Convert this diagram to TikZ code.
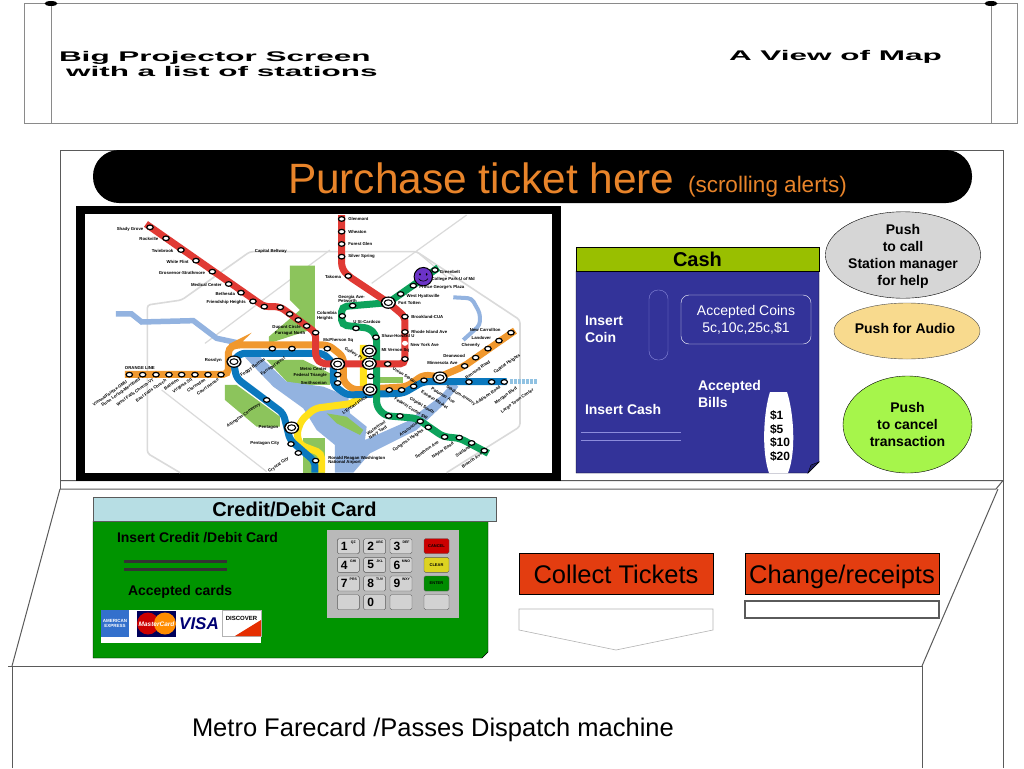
\documentclass[tikz,border=0pt]{standalone}
\usepackage{fontspec}
\setmainfont{Liberation Sans}
\usetikzlibrary{shapes, positioning}
\definecolor{framegray}{HTML}{8A8A8A}
\definecolor{kioskgray}{HTML}{5A5A5A}
\definecolor{titleorange}{HTML}{E8842A}
\definecolor{cashblue}{HTML}{333399}
\definecolor{cashgreen}{HTML}{99BF00}
\definecolor{slotblue}{HTML}{8C8CDC}
\definecolor{cardblue}{HTML}{B7DEE4}
\definecolor{cardgreen}{HTML}{009400}
\definecolor{btnred}{HTML}{E33D10}
\definecolor{callgray}{HTML}{D6D6D6}
\definecolor{audiotan}{HTML}{F8DA8E}
\definecolor{cancelgreen}{HTML}{A6F54B}
\definecolor{mapred}{HTML}{E03A34}
\definecolor{maporange}{HTML}{F0982E}
\definecolor{mapblue}{HTML}{0A78BE}
\definecolor{mapgreen}{HTML}{0DA35C}
\definecolor{mapyellow}{HTML}{FFE11A}
\definecolor{mapwater}{HTML}{93B3E0}
\definecolor{mappark}{HTML}{8CC45C}
\definecolor{mapbelt}{HTML}{DADADA}
\newcommand{\fsz}[1]{\fontsize{#1}{#1}\selectfont}
\tikzset{
  plainbox/.style={inner sep=0pt, outer sep=0pt, align=center},
  boldtext/.style={plainbox, text=white, align=left, font=\fsz{14}\bfseries, execute at begin node=\setlength{\baselineskip}{17pt}},
  cardtext/.style={plainbox, anchor=west, font=\fsz{14}\bfseries},
  pushbtn/.style={plainbox, draw=black, ellipse, font=\fsz{14}\bfseries, execute at begin node=\setlength{\baselineskip}{17pt}},
  redbtn/.style={plainbox, draw=black, fill=btnred, minimum width=194pt, minimum height=41pt, text height=21pt, text depth=2pt, font=\fsz{25.5}},
  stretchtext/.style={plainbox, anchor=west, transform shape, xscale=2.25, font=\fsz{14}\bfseries},
  keycap/.style={plainbox, draw=gray!70!black, fill=gray!35, rounded corners=1.5pt, minimum width=22pt, minimum height=15pt},
  sidekey/.style={keycap, minimum width=25pt, font=\fsz{4}\bfseries},
  metroline/.style={line width=7pt, rounded corners=5pt},
  maplabel/.style={plainbox, align=left, font=\fsz{4.3}\bfseries},
  stopmark/.style={draw=black, fill=white, line width=1.2pt}
}
\begin{document}
\begin{tikzpicture}[x=1pt, y=-1pt]
\useasboundingbox (0,0) rectangle (1024,768);
% Projector screen
\draw[framegray, line width=1pt] (24,3.5) rectangle (1017,123);
\draw[framegray, line width=1pt] (51,3.5) -- (51,123) (991,3.5) -- (991,123);
\fill (51,3.5) ellipse (6.5pt and 2.5pt);
\fill (991,3.5) ellipse (6.5pt and 2.5pt);
\node[stretchtext] (screen1) at (59,57.5) {Big Projector Screen};
\node[stretchtext] (screen2) at (66,71.5) {with a list of stations};
\node[stretchtext] (screen3) at (729,56.5) {A View of Map};
% Kiosk outline
\draw[kioskgray, line width=1pt] (60,489) -- (60,150) -- (1003,150) -- (1003,768);
\draw[kioskgray, line width=1pt] (60,480.5) -- (1003,480.5) -- (996,489) -- (60,489);
\draw[kioskgray, line width=1pt] (60,489) -- (12,666) (998,489) -- (922,666);
\draw[kioskgray, line width=1pt] (12,768) -- (12,666) (8,666) -- (922,666) -- (922,768);
% Title bar
\node[plainbox,
      fill=black,
      rounded corners=26pt,
      minimum width=879pt,
      minimum height=53pt] (titlebar) at (532.5,176.5) {};
\node[plainbox, anchor=base west, text=titleorange, font=\fsz{42.4}] (title) at (288,193) {Purchase ticket here};
\node[plainbox, anchor=base west, text=titleorange, font=\fsz{22.5}] (alerts) at (688,192) {(scrolling alerts)};
% Map
\fill[black] (76,206) rectangle (561,481);
\fill[white] (85,214) rectangle (552,473);
\begin{scope}[shift={(70,200)}, x=0.3333pt, y=-0.3333pt]
  % Roads
  \draw[mapbelt, line width=1.6pt, rounded corners=3pt]
    (1130,818) -- (1350,680) -- (1350,360) -- (1040,155) -- (540,155) -- (335,300) -- (232,315) -- (232,760) -- (330,818);
  \draw[mapbelt, line width=1.2pt]
    (1190,45) -- (905,250) (405,430) -- (780,150) (275,570) -- (590,815) (1040,155) -- (1130,230);
  % Parks and water
  \fill[mappark] (660,197) -- (735,197) -- (735,385) -- (597,430) -- (597,410) -- (690,330) -- (660,300) -- cycle;
  \fill[mappark] (465,555) -- (500,555) -- (630,650) -- (630,680) -- (560,680) -- (465,600) -- cycle;
  \fill[mappark] (700,715) -- (765,715) -- (765,818) -- (700,818) -- cycle;
  \fill[mappark] (590,480) -- (700,480) -- (780,520) -- (780,555) -- (660,555) -- cycle;
  \fill[mappark] (930,530) -- (1000,530) -- (1000,550) -- (930,550) -- cycle;
  \draw[mapwater, line width=5.5pt]
    (138,342) -- (185,342) -- (215,366) -- (370,362) -- (440,415) -- (510,430);
  \draw[mapwater, line width=4pt, rounded corners=4pt]
    (1150,292) -- (1205,295) -- (1230,340) -- (1230,375) -- (1180,420);
  \fill[mapwater] (525,472) -- (570,470) -- (650,545) -- (760,560) -- (835,590) -- (840,640) -- (890,680) -- (885,720)
    -- (1010,665) -- (1110,590) -- (1150,545) -- (1165,560) -- (1125,610) -- (1040,690) -- (900,760) -- (850,818)
    -- (795,818) -- (795,735) -- (740,690) -- (700,625) -- (610,560) -- cycle;
  \fill[mappark] (770,640) -- (830,650) -- (880,690) -- (870,705) -- (800,670) -- cycle;
  % Metro lines
  \draw[metroline, mapyellow]
    (880,435) -- (880,575) -- (850,610) -- (735,625) -- (695,660) -- (680,700) -- (690,735) -- (755,760) -- (755,818);
  \draw[metroline, maporange]
    (165,523) -- (475,523) -- (475,445) -- (495,435) -- (775,435) -- (820,470) -- (820,545) -- (850,570) -- (1010,560)
    -- (1060,525) -- (1110,530) -- (1180,500) -- (1335,392);
  \draw[metroline, mapblue]
    (1310,545) -- (1060,545) -- (1000,580) -- (830,585) -- (790,555) -- (790,490) -- (760,460) -- (510,460) -- (490,485)
    -- (500,535) -- (640,640) -- (660,720) -- (735,785) -- (735,818);
  \draw[mapblue!45, line width=5pt, dashed, dash pattern=on 3pt off 1pt] (1320,545) -- (1402,545);
  \draw[metroline, mapgreen]
    (1105,203) -- (955,308) -- (815,320) -- (815,375) -- (900,385) -- (920,410) -- (920,620) -- (945,647)
    -- (1040,655) -- (1120,710) -- (1170,715) -- (1255,760);
  \draw[metroline, mapred]
    (228,72) -- (583,320) -- (630,320) -- (737,398) -- (737,475) -- (757,492) -- (1005,492) -- (1005,350) -- (955,308)
    -- (835,228) -- (815,205) -- (815,45);
  % Stations
  \foreach \p in {(240,82),(288,115),(333,150),(378,182),(427,215),(476,252),(513,278),(549,304),(583,320),(631,322),
                  (659,342),(685,360),(710,378),(737,398),(815,57),(815,95),(815,132),(815,170),(835,228),(1005,350),
                  (1005,396),(1005,477),(953,492),(1095,210),(1030,257),(992,282),(848,317),(817,348),(858,385),(918,412),
                  (902,529),(956,648),(990,648),(1051,664),(1075,682),(1124,711),(1168,713),(1205,729),(1243,752),
                  (178,524),(218,524),(258,524),(297,524),(335,524),(375,524),(414,524),(453,524),(607,446),(666,446),(772,446),
                  (958,570),(995,570),(1031,559),(1062,541),(1184,498),(1217,473),(1254,446),(1287,422),(1323,398),
                  (590,600),(663,732),(685,759),(737,782),(803,524),(803,549),(1197,546),(1265,546),(1303,546)}
    \draw[stopmark] \p ellipse (3.2pt and 2.3pt);
  \fill[white] (1005,430) ellipse (3pt and 2.5pt);
  \foreach \p in {(492,485),(803,492),(898,453),(898,491),(900,569),(1110,533),(955,308),(665,683)} {
    \fill[black] \p ellipse (7.6pt and 6.2pt);
    \fill[white] \p ellipse (6.2pt and 4.9pt);
    \fill[black] \p ellipse (4.6pt and 3.4pt);
    \fill[white] \p ellipse (3.2pt and 2.2pt);
  }
  % Smiley
  \draw[black, fill=violet!55!blue!80!white, line width=1pt] (1060,230) circle (9.2pt);
  \fill[black] (1050,223) ellipse (0.9pt and 1.4pt) (1070,223) ellipse (0.9pt and 1.4pt);
  \draw[black, line width=0.6pt] (1046,236) .. controls (1052,246) and (1068,246) .. (1074,236);
  % Station names
  \foreach \p/\t [count=\n] in {(220,88)/Shady Grove, (265,118)/Rockville, (310,152)/Twinbrook, (356,187)/White Flint,
      (405,218)/Grosvenor-Strathmore, (455,254)/Medical Center, (495,282)/Bethesda, (527,308)/Friendship Heights,
      (692,382)/Dupont Circle, (706,400)/Farragut North, (455,480)/Rosslyn, (625,683)/Pentagon, (628,730)/Pentagon City,
      (770,508)/Metro Center, (770,527)/Federal Triangle, (770,550)/Smithsonian, (813,230)/Takoma,
      (800,348)/{Columbia\\Heights}, (850,420)/McPherson Sq}
    \node[maplabel, anchor=east] (east\n) at \p {\t};
  \foreach \p/\t [count=\n] in {(835,57)/Glenmont, (835,95)/Wheaton, (835,132)/Forest Glen, (835,170)/Silver Spring,
      (1110,216)/Greenbelt, (1085,239)/College Park-U of Md, (1048,261)/Prince George's Plaza, (1010,288)/West Hyattsville,
      (985,310)/Fort Totten, (1024,350)/Brookland-CUA, (1024,396)/Rhode Island Ave, (1022,435)/New York Ave,
      (1200,390)/New Carrollton, (1205,414)/Landover, (1175,437)/Cheverly, (1120,467)/Deanwood, (1072,490)/Minnesota Ave,
      (850,365)/{U St-Cardozo}, (935,408)/Shaw-Howard U, (935,450)/Mt Vernon Sq, (805,297)/{Georgia Ave-\\Petworth},
      (775,782)/{Ronald Reagan Washington\\National Airport}, (165,505)/ORANGE LINE, (555,153)/Capital Beltway}
    \node[maplabel, anchor=west] (west\n) at \p {\t};
  \foreach \p/\t [count=\n] in {(170,545)/{Vienna/Fairfax-GMU}, (210,538)/Dunn Loring-Merrifield, (250,538)/West Falls Church-VT,
      (288,540)/East Falls Church, (325,538)/Ballston, (365,538)/Virginia Sq, (405,538)/Clarendon, (445,538)/Court House,
      (585,478)/Foggy Bottom, (645,475)/Farragut West, (945,665)/Waterfront,
      (950,680)/Navy Yard, (1040,670)/Anacostia, (1060,690)/Congress Heights, (1105,725)/Southern Ave, (1150,730)/Naylor Road,
      (1200,740)/Suitland, (1235,760)/Branch Ave, (1260,485)/Benning Road, (1350,465)/Capitol Heights, (1290,560)/Addison Road,
      (1340,565)/Morgan Blvd, (1390,570)/Largo Town Center, (655,775)/Crystal City, (570,612)/Arlington Cemetery,
      (890,590)/L'Enfant Plaza}
    \node[maplabel, anchor=east, rotate=35] (tilt\n) at \p {\t};
  \foreach \p/\t [count=\n] in {(975,595)/Federal Center SW, (1020,595)/Capitol South, (1055,575)/Eastern Market,
      (1085,565)/Potomac Ave, (1130,560)/Stadium-Armory, (825,445)/Gallery Pl, (970,505)/Union Station}
    \node[maplabel, anchor=west, rotate=-32] (slant\n) at \p {\t};
\end{scope}
% Cash panel
\draw[black, fill=cashblue] (576,271) -- (819,271) -- (819,462) -- (808,473) -- (576,473) -- cycle;
\draw[black, fill=cashblue!70!black] (808,473) -- (811,465) -- (819,462) -- cycle;
\node[plainbox, draw=black, fill=cashgreen, minimum width=243pt, minimum height=24pt, font=\fsz{20}\bfseries] (cashhead) at (697.5,259) {Cash};
\node[boldtext, anchor=west] (insertcoin) at (585,329) {Insert\\Coin};
\node[plainbox, draw=slotblue, rounded corners=9pt, minimum width=19pt, minimum height=70pt] (coinslot) at (658.5,325) {};
\node[plainbox, draw=white, rounded corners=8pt, text=white, minimum width=130pt, minimum height=49pt, font=\fsz{14},
      execute at begin node=\setlength{\baselineskip}{17pt}] (coinbox) at (746,319.5) {Accepted Coins\\5c,10c,25c,\$1};
\node[boldtext, anchor=west] (insertcash) at (585,409) {Insert Cash};
\draw[slotblue, line width=0.5pt] (581,432) -- (681,432) (581,440) -- (681,440);
\node[boldtext, anchor=west] (acceptbills) at (698,393.5) {Accepted\\Bills};
\fill[white] (770,392) -- (787,392) .. controls (793,410) and (797,450) .. (788,473) -- (769,473) .. controls (761,450) and (764,410) .. (770,392);
\node[plainbox, anchor=west, align=left, font=\fsz{12}\bfseries,
      execute at begin node=\setlength{\baselineskip}{13.5pt}] (billlist) at (770,436) {\$1\\\$5\\\$10\\\$20};
% Push buttons
\node[pushbtn, fill=callgray, text depth=0pt, minimum width=154pt, minimum height=81pt] (pushcall) at (903,255) {Push\\to call\\Station manager\\for help};
\node[pushbtn, draw=gray!60!black, fill=audiotan, minimum width=146pt, minimum height=56pt] (pushaudio) at (907,331) {};
\node[plainbox, font=\fsz{14}\bfseries] (audiotext) at (905,328) {Push for Audio};
\node[pushbtn, fill=cancelgreen, minimum width=129pt, minimum height=97pt] (pushcancel) at (907.5,424.5) {Push\\to cancel\\transaction};
% Card panel
\draw[black, fill=cardgreen] (93,521) -- (488,521) -- (488,652) -- (482,658) -- (93,658) -- cycle;
\node[plainbox, draw=kioskgray, fill=cardblue, minimum width=403pt, minimum height=24pt, font=\fsz{20}\bfseries] (cardhead) at (294.5,509) {Credit/Debit Card};
\node[cardtext] (insertcard) at (117,538) {Insert Credit /Debit Card};
\draw[black!80, line width=3pt] (124,561) -- (227,561) (124,569) -- (227,569);
\node[cardtext] (acceptcards) at (128,592) {Accepted cards};
% Card logos
\fill[white] (101,610) rectangle (261,643);
\node[plainbox, fill=blue!60!cyan!60!gray, text=white, minimum width=28pt, minimum height=27pt, font=\fsz{4.5}\bfseries] (amex) at (115,623.5) {AMERICAN\\EXPRESS};
\node[plainbox, fill=blue!35!black, minimum width=39pt, minimum height=26pt] (master) at (156.5,624) {};
\fill[red!80!black] (148,623.5) circle (11pt);
\fill[orange!90!yellow] (165,623.5) circle (11pt);
\node[plainbox, text=white, font=\fsz{6.5}\bfseries\itshape] (mastertext) at (master) {MasterCard};
\node[plainbox, text=blue!45!black, font=\fsz{17}\bfseries\itshape] (visa) at (199,624) {VISA};
\node[plainbox, draw=gray!60, fill=white, minimum width=39pt, minimum height=26pt] (discover) at (241.5,623) {};
\fill[red!60!orange!90!black] (261,620) -- (261,636) -- (235,636) -- cycle;
\node[plainbox, font=\fsz{6}\bfseries] (discovertext) at (241.5,618) {DISCOVER};
% Keypad
\node[plainbox, fill=gray!55, minimum width=132pt, minimum height=88pt] (keypad) at (393,573.5) {};
\foreach \d/\l/\i/\j in {1/QZ/0/0, 2/ABC/1/0, 3/DEF/2/0, 4/GHI/0/1, 5/JKL/1/1, 6/MNO/2/1, 7/PRS/0/2, 8/TUV/1/2, 9/WXY/2/2, 0//1/3} {
  \node[keycap] (key\d) at (348.3+26.35*\i, 546.2+18.67*\j) {};
  \node[plainbox, font=\fsz{12}\bfseries] (digit\d) at ([xshift=-4pt]key\d.center) {\d};
  \node[plainbox, font=\fsz{3.5}\bfseries] (letters\d) at ([xshift=5pt, yshift=4pt]key\d.center) {\l};
}
\node[keycap] (blank1) at (348.3,602.2) {};
\node[keycap] (blank2) at (401,602.2) {};
\node[sidekey, fill=red!80!black] (keycancel) at (436.5,546.2) {CANCEL};
\node[sidekey, fill=yellow!85!black] (keyclear) at (436.5,564.9) {CLEAR};
\node[sidekey, fill=green!55!black] (keyenter) at (436.5,583.5) {ENTER};
\node[sidekey] (blank3) at (436.5,602.2) {};
% Tickets and change
\node[redbtn] (collectbtn) at (616,573.5) {Collect Tickets};
\node[redbtn, right=32pt of collectbtn] (changebtn) {Change/receipts};
\node[plainbox, draw=kioskgray, line width=1.2pt, minimum width=194pt, minimum height=17pt, below=7pt of changebtn] (changeslot) {};
\draw[gray!60, line width=0.6pt] (519,609) -- (713,609) -- (713,630) -- (616,650) -- (519,630) -- cycle;
% Dispatch label
\node[plainbox, anchor=west, font=\fsz{25.5}] (dispatch) at (192,730) {Metro Farecard /Passes Dispatch machine};
\end{tikzpicture}
\end{document}
